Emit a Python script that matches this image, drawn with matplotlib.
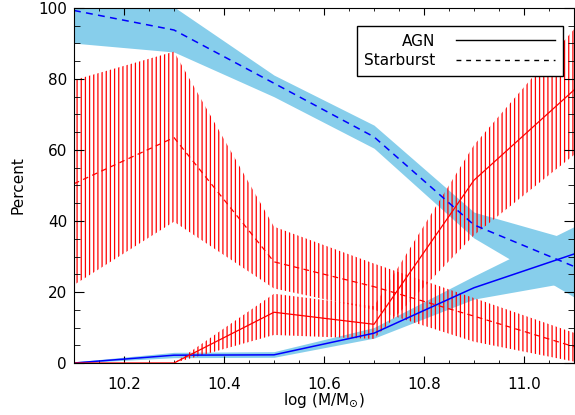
import matplotlib
matplotlib.use('Agg')
import matplotlib.pyplot as plt
from matplotlib.lines import Line2D
from matplotlib.ticker import MultipleLocator

# stellar mass bins
mass = [10.1, 10.3, 10.5, 10.7, 10.9, 11.1]

# blue sample
agn_blue = [0.0, 2.2, 2.3, 8.4, 21.2, 30.7]
agn_blue_lo = [0.0, 1.5, 1.6, 7.0, 18.0, 23.0]
agn_blue_hi = [0.3, 3.0, 3.2, 10.0, 24.5, 38.4]
sb_blue = [99.3, 93.8, 78.8, 63.7, 38.9, 27.2]
sb_blue_lo = [90.1, 87.6, 75.0, 60.5, 35.2, 18.6]
sb_blue_hi = [108.0, 100.3, 81.1, 67.0, 42.5, 34.5]

# red sample
agn_red = [0.0, 0.0, 14.3, 10.9, 51.5, 76.9]
agn_red_lo = [0.0, 0.0, 7.9, 6.8, 36.0, 58.6]
agn_red_hi = [0.0, 0.0, 19.5, 16.0, 61.4, 94.0]
sb_red = [50.5, 63.5, 28.5, 21.5, 13.2, 4.6]
sb_red_lo = [22.0, 39.8, 21.0, 15.0, 6.0, 0.4]
sb_red_hi = [79.7, 87.7, 38.4, 28.0, 18.3, 8.5]

plt.rcParams['hatch.linewidth'] = 0.9
plt.rcParams['font.family'] = ['DejaVu Sans']

fig = plt.figure(figsize=(5.75, 4.15), dpi=100)
ax = fig.add_axes([74 / 575, 52 / 415, 500 / 575, 355 / 415])

# blue shaded ranges
ax.fill_between(mass, sb_blue_lo, sb_blue_hi, color='skyblue', linewidth=0)
ax.fill_between(mass, agn_blue_lo, agn_blue_hi, color='skyblue', linewidth=0)

# red hatched ranges
ax.fill_between(mass, sb_red_lo, sb_red_hi, facecolor='none', edgecolor='red',
                hatch='||||', linewidth=0)
ax.fill_between(mass, agn_red_lo, agn_red_hi, facecolor='none', edgecolor='red',
                hatch='||||', linewidth=0)

ax.plot(mass, sb_blue, color='blue', lw=1.1, dashes=(4.5, 3.5))
ax.plot(mass, agn_blue, color='blue', lw=1.1)
ax.plot(mass, sb_red, color='red', lw=0.9, dashes=(4.5, 3.5))
ax.plot(mass, agn_red, color='red', lw=0.9)

ax.set_xlim(10.1, 11.1)
ax.set_ylim(0, 100)
ax.xaxis.set_major_locator(MultipleLocator(0.2))
ax.xaxis.set_minor_locator(MultipleLocator(0.05))
ax.yaxis.set_major_locator(MultipleLocator(20))
ax.yaxis.set_minor_locator(MultipleLocator(5))
ax.tick_params(which='both', direction='in', top=True, right=True, labelsize=11)
ax.tick_params(axis='x', which='major', length=5, pad=10)
ax.tick_params(axis='x', which='minor', length=2.5)
ax.tick_params(axis='y', which='major', length=7.5, pad=5)
ax.tick_params(axis='y', which='minor', length=4)
ax.xaxis.set_major_formatter(plt.FormatStrFormatter('%.1f'))
ax.yaxis.set_major_formatter(plt.FormatStrFormatter('%d'))

ax.set_xlabel(r'log (M/M$_{\odot}$)', fontsize=11, labelpad=0)
ax.set_ylabel('Percent', fontsize=11, labelpad=9)

handles = [Line2D([], [], color='black', lw=1),
           Line2D([], [], color='black', lw=1, dashes=(3.5, 3.5))]
leg = ax.legend(handles, ['AGN', 'Starburst'], loc='upper right',
                bbox_to_anchor=(0.977, 0.949), borderaxespad=0, markerfirst=False,
                fontsize=11, handlelength=6.5, handletextpad=1.3,
                fancybox=False, framealpha=1, edgecolor='black',
                borderpad=0.5, labelspacing=0.3)
leg.get_frame().set_linewidth(1)

fig.savefig('out.png', dpi=100)
